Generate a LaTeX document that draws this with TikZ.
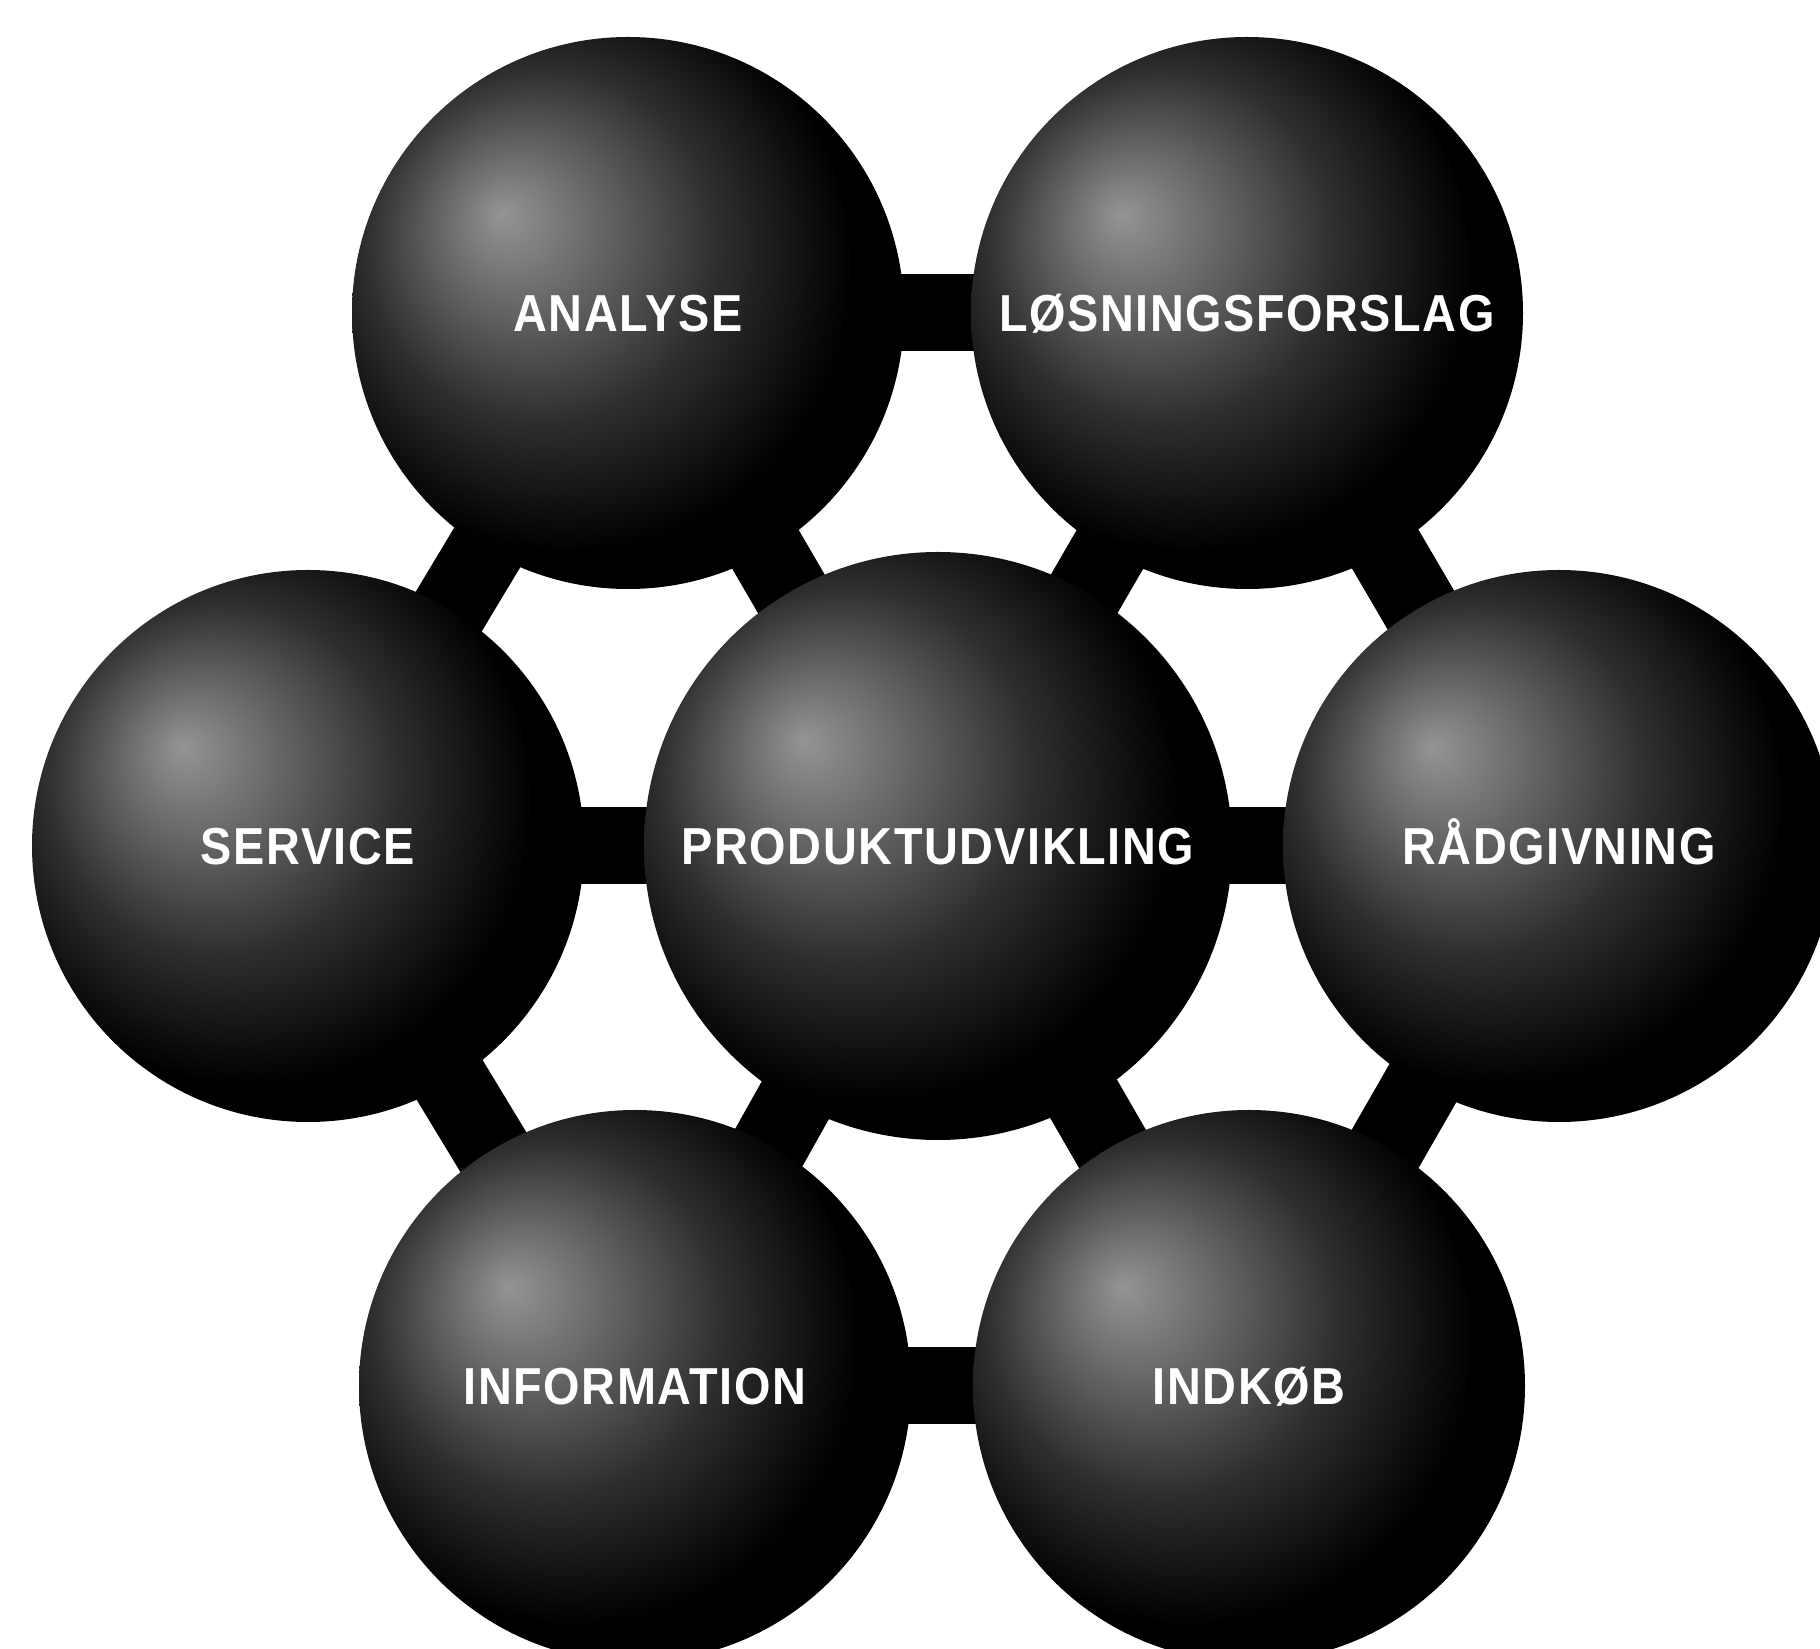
\documentclass[tikz,border=0pt]{standalone}
\usepackage{fontspec}
\newfontfamily\labelfont[FakeStretch=0.9,LetterSpace=3]{Liberation Sans}
\usetikzlibrary{backgrounds}

\pgfdeclareradialshading{glossy}{\pgfpoint{-11.5bp}{9bp}}{%
  color(0bp)=(black!42); color(8bp)=(black!62); color(16bp)=(black!82);
  color(26bp)=(black); color(50bp)=(black)}

\tikzset{
  globe/.style={circle, minimum size=5.52cm, inner sep=0pt, outer sep=0pt,
    shade, shading=glossy, text=white,
    font=\labelfont\bfseries\fontsize{14.8pt}{16pt}\selectfont,
    text height=0.38cm, text depth=0pt},
  bigglobe/.style={globe, minimum size=5.88cm},
  rod/.style={line width=0.77cm, black}
}

\begin{document}
\begin{tikzpicture}
    \useasboundingbox (0,0) rectangle (18.2,-16.49);
    \node[globe] (analyse) at (6.28,-3.13) {ANALYSE};
    \node[globe] (losning) at (12.47,-3.13) {LØSNINGSFORSLAG};
    \node[globe] (service) at (3.08,-8.46) {SERVICE};
    \node[bigglobe] (produkt) at (9.38,-8.46) {PRODUKTUDVIKLING};
    \node[globe] (raad) at (15.59,-8.46) {RÅDGIVNING};
    \node[globe] (info) at (6.35,-13.86) {INFORMATION};
    \node[globe] (indkob) at (12.49,-13.86) {INDKØB};
    \begin{scope}[on background layer]
      \fill[white] (0,0) rectangle (18.2,-16.49);
      \foreach \a/\b in {analyse/losning, analyse/service, analyse/produkt,
                         losning/produkt, losning/raad, service/produkt,
                         produkt/raad, service/info, produkt/info,
                         produkt/indkob, raad/indkob, info/indkob}
        \draw[rod] (\a.center) -- (\b.center);
    \end{scope}
\end{tikzpicture}
\end{document}
